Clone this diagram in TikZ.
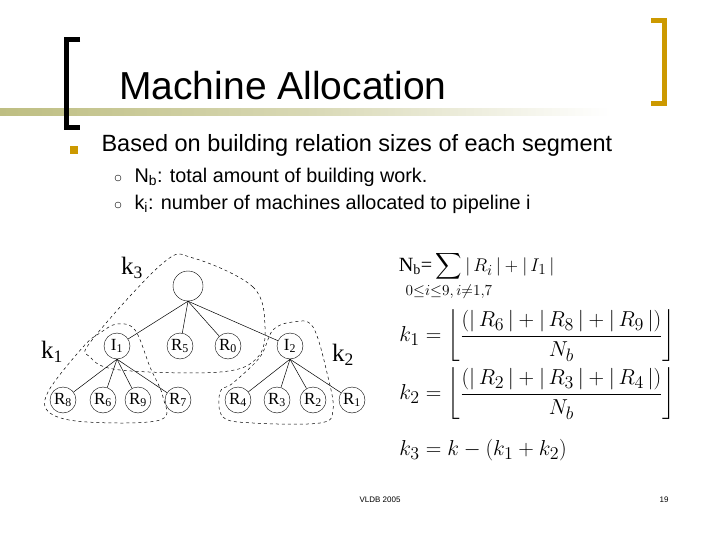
\documentclass[tikz,border=0pt]{standalone}
\usepackage{amsmath,mathtools}
\usepackage{fontspec}
\setmainfont{Liberation Serif}
\setsansfont{Liberation Sans}
\usetikzlibrary{calc}
\definecolor{gold}{RGB}{204,153,0}
\definecolor{olive}{RGB}{190,190,130}
\tikzset{
  tn/.style={draw,circle,minimum size=26pt,inner sep=0pt,font=\fontsize{17}{17}\selectfont},
  ed/.style={line width=0.5pt},
  reg/.style={dashed,line width=0.5pt},
  klab/.style={font=\fontsize{25}{25}\selectfont},
  hd/.style={font=\sffamily\fontsize{23.5}{26}\selectfont,anchor=west},
  sb/.style={font=\sffamily\fontsize{19.8}{21}\selectfont,anchor=west},
  eq/.style={anchor=west,scale=1.25,font=\fontsize{19}{22}\selectfont}
}
\begin{document}
\begin{tikzpicture}[x=1pt,y=-1pt]
\useasboundingbox (0,0) rectangle (720,540);
% header
\shade[left color=olive,right color=white,middle color=olive!60] (0,109) rectangle (610,116);
\draw[line width=5pt] (80,40) -- (66,40) -- (66,128) -- (80,128);
\draw[gold,line width=5pt] (651,21) -- (664,21) -- (664,104) -- (651,104);
\node[font=\sffamily\fontsize{39}{42}\selectfont] (title) at (283,86) {Machine Allocation};
\fill[gold] (70,146) rectangle (78,154);
\node[hd] (b1) at (98,145) {Based on building relation sizes of each segment};
\node[draw,circle,inner sep=0pt,minimum size=6pt] (c1) at (118,178) {};
\node[draw,circle,inner sep=0pt,minimum size=6pt] (c2) at (118,205) {};
\node[sb] (s1) at (131,177) {N\textsubscript{b}: total amount of building work.};
\node[sb] (s2) at (131,204) {k\textsubscript{i}: number of machines allocated to pipeline i};
% tree
\node[tn,minimum size=30pt] (root) at (188,286) {};
\node[tn] (I1) at (117,346) {I\textsubscript{1}};
\node[tn] (R5) at (180,346) {R\textsubscript{5}};
\node[tn] (R0) at (228,346) {R\textsubscript{0}};
\node[tn] (I2) at (290,346) {I\textsubscript{2}};
\node[tn] (R8) at (63,400) {R\textsubscript{8}};
\node[tn] (R6) at (103,400) {R\textsubscript{6}};
\node[tn] (R9) at (138,400) {R\textsubscript{9}};
\node[tn] (R7) at (178,400) {R\textsubscript{7}};
\node[tn] (R4) at (238,400) {R\textsubscript{4}};
\node[tn] (R3) at (277,400) {R\textsubscript{3}};
\node[tn] (R2) at (313,400) {R\textsubscript{2}};
\node[tn] (R1) at (352,400) {R\textsubscript{1}};
\foreach \c in {I1,R5,R0,I2} \draw[ed] (root.south) -- (\c);
\foreach \c in {R8,R6,R9,R7} \draw[ed] (I1.south) -- (\c);
\foreach \c in {R4,R3,R2,R1} \draw[ed] (I2.south) -- (\c);
\node[klab] (k3) at (132,268) {k\textsubscript{3}};
\node[klab] (k1) at (52,352) {k\textsubscript{1}};
\node[klab] (k2) at (343,355) {k\textsubscript{2}};
% regions
\draw[reg] plot[smooth cycle,tension=0.6] coordinates {(193,258) (253,287) (265,327) (257,358) (220,372) (120,370) (90,357) (92,340) (163,263)};
\draw[reg] plot[smooth cycle,tension=0.6] coordinates {(48,392) (50,413) (87,422) (160,420) (163,397) (150,367) (135,330) (117,324) (100,333) (83,347)};
\draw[reg] plot[smooth cycle,tension=0.6] coordinates {(220,392) (223,417) (253,423) (320,423) (333,410) (328,377) (313,327) (293,322) (273,330) (260,357) (233,383)};
% formulas
\node[eq,scale=0.85] (nb) at (395,276) {N\textsubscript{b}=\,$\displaystyle\sum_{\mathclap{0\le i\le 9,\,i\ne 1,7}}|\,R_i\,|+|\,I_1\,|$};
\node[eq] (f1) at (395,336) {$k_1=\left\lfloor\dfrac{(|\,R_6\,|+|\,R_8\,|+|\,R_9\,|)}{N_b}\right\rfloor$};
\node[eq] (f2) at (395,394) {$k_2=\left\lfloor\dfrac{(|\,R_2\,|+|\,R_3\,|+|\,R_4\,|)}{N_b}\right\rfloor$};
\node[eq] (f3) at (395,450) {$k_3=k-(k_1+k_2)$};
% footer
\node[font=\sffamily\fontsize{8}{9}\selectfont] (ft) at (380,500) {VLDB 2005};
\node[font=\sffamily\fontsize{8}{9}\selectfont] (pg) at (664,500) {19};
\end{tikzpicture}
\end{document}
